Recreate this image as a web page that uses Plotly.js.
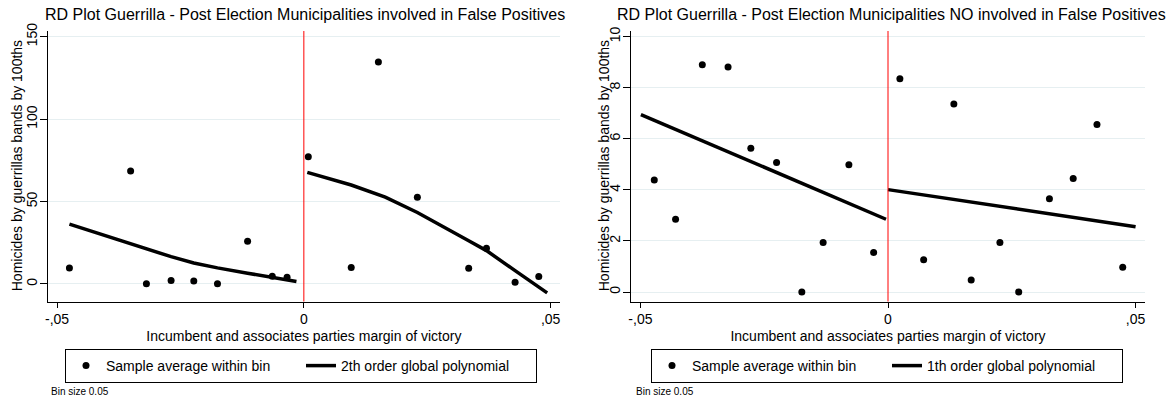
<!DOCTYPE html>
<html>
<head>
<meta charset="utf-8">
<script src="https://cdn.plot.ly/plotly-3.0.1.min.js"></script>
<style>html,body{margin:0;padding:0;background:#fff;}#chart{width:1167px;height:400px;}</style>
</head>
<body>
<div id="chart"></div>
<script>
// ---- Data ----
const cutoff = 0;

// Left panel: municipalities involved in False Positives
const leftBinX = [-0.0475, -0.0351, -0.0319, -0.0269, -0.0223, -0.0175, -0.0114, -0.0064, -0.0034, 0.0009, 0.0096, 0.0151, 0.0230, 0.0334, 0.0370, 0.0428, 0.0476];
const leftBinY = [9.7, 68.5, 0, 2.0, 1.8, 0, 25.8, 4.6, 4.0, 77.1, 10.0, 134.7, 52.6, 9.5, 21.6, 1.0, 4.4];
const leftFitBelowX = [-0.0475, -0.0394, -0.0319, -0.0269, -0.0223, -0.0175, -0.0114, -0.0064, -0.0015];
const leftFitBelowY = [36.3, 28.6, 21.2, 16.5, 12.7, 9.7, 6.5, 4.0, 1.4];
const leftFitAboveX = [0.0007, 0.0096, 0.0165, 0.0230, 0.0334, 0.0370, 0.0428, 0.0476, 0.0493];
const leftFitAboveY = [67.7, 60.0, 52.6, 43.3, 26.2, 20.2, 8.0, -1.5, -5.5];

// Right panel: municipalities NOT involved in False Positives
const rightBinX = [-0.0472, -0.0429, -0.0375, -0.0323, -0.0277, -0.0225, -0.0174, -0.0131, -0.0079, -0.0029, 0.0024, 0.0072, 0.0133, 0.0168, 0.0226, 0.0264, 0.0326, 0.0374, 0.0422, 0.0474];
const rightBinY = [4.39, 2.85, 8.90, 8.81, 5.63, 5.07, 0, 1.94, 4.98, 1.55, 8.35, 1.26, 7.36, 0.47, 1.94, 0, 3.65, 4.45, 6.56, 0.97];
const rightFitBelowX = [-0.0499, -0.0004];
const rightFitBelowY = [6.95, 2.85];
const rightFitAboveX = [0.0, 0.05];
const rightFitAboveY = [4.01, 2.56];

// Labels
const titleLeft = "RD Plot Guerrilla - Post Election Municipalities involved in False Positives";
const titleRight = "RD Plot Guerrilla - Post Election Municipalities NO involved in False Positives";
const xTitle = "Incumbent and associates parties margin of victory";
const yTitle = "Homicides by guerrillas bands by 100ths";
const xTickVals = [-0.05, 0, 0.05];
const xTickText = ["-,05", "0", ",05"];
const leftYTicks = [0, 50, 100, 150];
const rightYTicks = [0, 2, 4, 6, 8, 10];
const legendDots = "Sample average within bin";
const legendFitLeft = "2th order global polynomial";
const legendFitRight = "1th order global polynomial";
const noteText = "Bin size 0.05";

// ---- Styling ----
const FONT = "Liberation Sans, Arial, Helvetica, sans-serif";
const W = 1167, H = 400;
const px = v => v / W;
const py = v => 1 - v / H;

const dotStyle = {color: "#000", size: 7, line: {width: 0}};
const fitStyle = {color: "#000", width: 3.5};

const traces = [
  {x: leftBinX, y: leftBinY, type: "scatter", mode: "markers", marker: dotStyle, name: legendDots, xaxis: "x", yaxis: "y", legend: "legend", cliponaxis: false},
  {x: leftFitBelowX, y: leftFitBelowY, type: "scatter", mode: "lines", line: fitStyle, name: legendFitLeft, xaxis: "x", yaxis: "y", legend: "legend"},
  {x: leftFitAboveX, y: leftFitAboveY, type: "scatter", mode: "lines", line: fitStyle, name: legendFitLeft, xaxis: "x", yaxis: "y", showlegend: false},
  {x: rightBinX, y: rightBinY, type: "scatter", mode: "markers", marker: dotStyle, name: legendDots, xaxis: "x2", yaxis: "y2", legend: "legend2", cliponaxis: false},
  {x: rightFitBelowX, y: rightFitBelowY, type: "scatter", mode: "lines", line: fitStyle, name: legendFitRight, xaxis: "x2", yaxis: "y2", legend: "legend2"},
  {x: rightFitAboveX, y: rightFitAboveY, type: "scatter", mode: "lines", line: fitStyle, name: legendFitRight, xaxis: "x2", yaxis: "y2", showlegend: false}
];

const plotTop = 31, plotBottom = 301.5;
const yDomain = [py(plotBottom), py(plotTop)];

function xAxis(domain, anchor) {
  return {
    domain: domain, anchor: anchor,
    range: [-0.0519, 0.0519],
    tickmode: "array", tickvals: xTickVals, ticktext: xTickText,
    ticks: "outside", ticklen: 5, tickwidth: 1, tickcolor: "#000",
    showline: true, linecolor: "#000", linewidth: 1,
    showgrid: false, zeroline: false,
    tickfont: {family: FONT, size: 14, color: "#000"},
    title: {text: xTitle, font: {family: FONT, size: 14, color: "#000"}, standoff: 4},
    automargin: false,
    fixedrange: true
  };
}
function yAxis(range, ticks, anchor) {
  return {
    domain: yDomain, anchor: anchor,
    range: range,
    tickmode: "array", tickvals: ticks,
    ticks: "outside", ticklen: 7, tickwidth: 1, tickcolor: "#000",
    tickangle: -90, ticklabelstandoff: -3,
    showline: true, linecolor: "#000", linewidth: 1,
    showgrid: true, gridcolor: "#e6eff1", gridwidth: 1, zeroline: false,
    tickfont: {family: FONT, size: 14, color: "#000"},
    automargin: false,
    fixedrange: true
  };
}

function legendBox(leftPx) {
  return {
    x: px(leftPx), y: py(349), xanchor: "left", yanchor: "top", xref: "paper", yref: "paper",
    orientation: "h", bordercolor: "#000", borderwidth: 1, bgcolor: "#fff",
    font: {family: FONT, size: 14, color: "#000"}, itemwidth: 30,
    entrywidth: 190, entrywidthmode: "pixels", tracegroupgap: 0
  };
}

function yTitleAnn(xPx) {
  return {text: yTitle, xref: "paper", yref: "paper", x: px(xPx), y: py((plotTop + plotBottom) / 2),
    xanchor: "center", yanchor: "middle", textangle: -90, showarrow: false,
    font: {family: FONT, size: 14, color: "#000"}};
}

const layout = {
  width: W, height: H,
  margin: {l: 0, r: 0, t: 0, b: 0, autoexpand: false},
  paper_bgcolor: "#fff", plot_bgcolor: "#fff",
  font: {family: FONT, size: 14, color: "#000"},
  xaxis: xAxis([px(47.7), px(560)], "y"),
  yaxis: yAxis([-10.7, 153.5], leftYTicks, "x"),
  xaxis2: xAxis([px(631), px(1145)], "y2"),
  yaxis2: yAxis([-0.37, 10.22], rightYTicks, "x2"),
  showlegend: true,
  legend: legendBox(65),
  legend2: legendBox(651),
  shapes: [
    {type: "line", xref: "x", yref: "y domain", x0: cutoff, x1: cutoff, y0: 0, y1: 1, line: {color: "#ff0000", width: 1}, layer: "above"},
    {type: "line", xref: "x2", yref: "y2 domain", x0: cutoff, x1: cutoff, y0: 0, y1: 1, line: {color: "#ff0000", width: 1}, layer: "above"}
  ],
  annotations: [
    {text: titleLeft, xref: "paper", yref: "paper", x: px(304.5), y: py(14), xanchor: "center", yanchor: "middle", showarrow: false, font: {family: FONT, size: 16, color: "#000"}},
    {text: titleRight, xref: "paper", yref: "paper", x: px(891), y: py(14), xanchor: "center", yanchor: "middle", showarrow: false, font: {family: FONT, size: 16, color: "#000"}},
    yTitleAnn(17),
    yTitleAnn(604),
    {text: noteText, xref: "paper", yref: "paper", x: px(49), y: py(391), xanchor: "left", yanchor: "middle", showarrow: false, font: {family: FONT, size: 10, color: "#000"}},
    {text: noteText, xref: "paper", yref: "paper", x: px(634), y: py(391), xanchor: "left", yanchor: "middle", showarrow: false, font: {family: FONT, size: 10, color: "#000"}}
  ]
};

Plotly.newPlot("chart", traces, layout, {displayModeBar: false, staticPlot: true});
</script>
</body>
</html>
